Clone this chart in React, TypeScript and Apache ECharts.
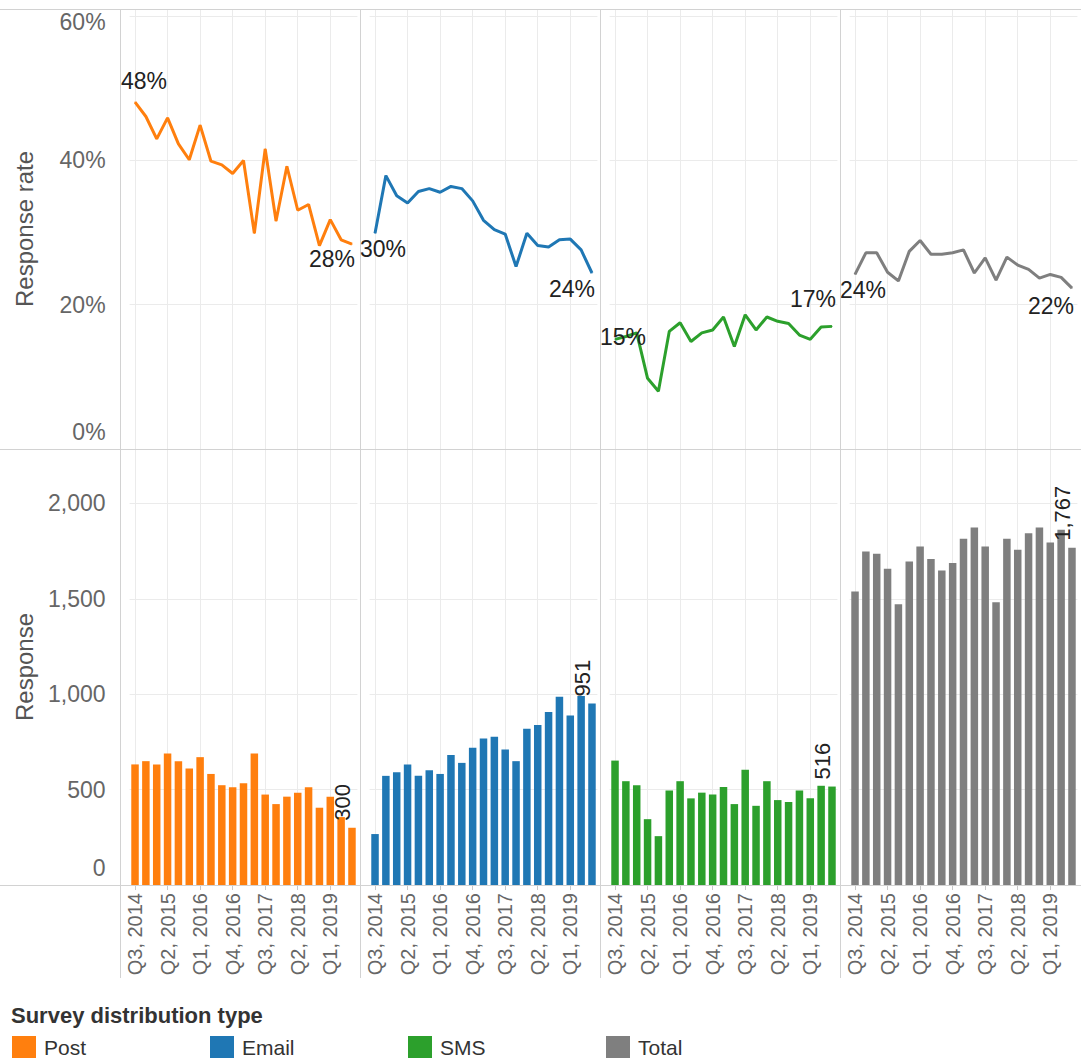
import React, { useEffect, useRef } from 'react';
import * as echarts from 'echarts';

const categories = ['Q3, 2014','Q4, 2014','Q1, 2015','Q2, 2015','Q3, 2015','Q4, 2015','Q1, 2016','Q2, 2016','Q3, 2016','Q4, 2016','Q1, 2017','Q2, 2017','Q3, 2017','Q4, 2017','Q1, 2018','Q2, 2018','Q3, 2018','Q4, 2018','Q1, 2019','Q2, 2019','Q3, 2019'];

const seriesNames = ['Post', 'Email', 'SMS', 'Total'];
const colors = ['#ff7f0e', '#1f77b4', '#2ca02c', '#7f7f7f'];

const postRate = [48.1,46.1,43.0,45.9,42.3,40.1,44.9,39.9,39.4,38.2,40.0,29.9,41.6,31.6,39.2,33.1,33.9,28.2,31.8,29.0,28.4];
const emailRate = [29.9,37.9,35.1,34.1,35.7,36.1,35.6,36.4,36.1,34.4,31.7,30.4,29.8,25.3,29.9,28.2,28.0,29.0,29.1,27.6,24.4];
const smsRate = [15.2,15.6,16.1,9.8,8.0,16.3,17.5,14.9,16.1,16.5,18.3,14.2,18.6,16.5,18.3,17.7,17.4,15.8,15.2,16.9,17.0];
const totalRate = [24.2,27.2,27.2,24.5,23.3,27.4,28.9,27.0,27.0,27.2,27.6,24.4,26.5,23.4,26.6,25.5,24.9,23.7,24.2,23.8,22.3];

const postResp = [632,649,632,689,649,610,670,582,523,512,533,689,474,424,463,484,512,405,463,356,300];
const emailResp = [267,572,591,631,572,602,582,681,640,719,768,777,710,649,819,838,907,986,888,990,951];
const smsResp = [652,544,523,345,256,495,544,454,484,474,514,424,604,415,544,445,435,495,454,520,516];
const totalResp = [1538,1748,1736,1657,1472,1696,1774,1708,1648,1687,1814,1874,1774,1482,1814,1757,1844,1874,1795,1862,1767];

const rateTicks = [0, 20, 40, 60];
const respTicks = [0, 500, 1000, 1500, 2000];

const rates = [postRate, emailRate, smsRate, totalRate];
const resps = [postResp, emailResp, smsResp, totalResp];

// label offsets for first / last points of each rate line
const lineLabelOffsets = [
  [[9, -21], [-20, 15]],
  [[8, 16], [-20, 16]],
  [[8, -2], [-19, -27]],
  [[8, 16], [-21, 18]],
];

const FONT = "'Liberation Sans', Arial, sans-serif";
const AXIS_COLOR = '#666';
const GRID_COLOR = '#ebebeb';
const SEP_COLOR = '#d2d2d2';

function buildOption() {
  const grids: any[] = [];
  const xAxes: any[] = [];
  const yAxes: any[] = [];
  const series: any[] = [];

  for (let r = 0; r < 2; r++) {
    for (let c = 0; c < 4; c++) {
      grids.push({
        left: 129.6 + 240 * c,
        width: 227.8,
        top: r === 0 ? 9 : 449,
        height: r === 0 ? 440 : 436,
      });
      xAxes.push({
        type: 'category',
        gridIndex: r * 4 + c,
        data: categories,
        boundaryGap: true,
        axisLine: { show: r === 1, lineStyle: { color: '#c8c8c8' } },
        axisTick: { show: r === 1, interval: 2, alignWithLabel: true, length: 5, lineStyle: { color: '#c8c8c8' } },
        axisLabel: {
          show: r === 1,
          interval: 2,
          rotate: 90,
          fontSize: 20,
          color: AXIS_COLOR,
          fontFamily: FONT,
          margin: 8,
        },
        splitLine: { show: true, interval: 2, alignWithLabel: true, lineStyle: { color: GRID_COLOR, width: 1 } },
      });
      if (r === 0) {
        yAxes.push({
          type: 'value',
          gridIndex: c,
          min: 0,
          max: 61,
          interval: 20,
          name: c === 0 ? 'Response rate' : '',
          nameLocation: 'middle',
          nameGap: 93,
          nameTextStyle: { fontSize: 24, color: '#555', fontFamily: FONT },
          axisLine: { show: false },
          axisTick: { show: false },
          axisLabel: {
            show: c === 0,
            margin: 24,
            fontSize: 23,
            color: AXIS_COLOR,
            fontFamily: FONT,
            formatter: (v: number) => {
              if (!rateTicks.includes(v)) return '';
              if (v === rateTicks[0]) return '{lo|' + v + '%}';
              if (v === rateTicks[rateTicks.length - 1]) return '{hi|' + v + '%}';
              return v + '%';
            },
            rich: {
              lo: { fontSize: 23, color: AXIS_COLOR, fontFamily: FONT, padding: [0, 0, 34, 0] },
              hi: { fontSize: 23, color: AXIS_COLOR, fontFamily: FONT, padding: [12, 0, 0, 0] },
            },
          },
          splitLine: { show: true, lineStyle: { color: GRID_COLOR } },
        });
      } else {
        yAxes.push({
          type: 'value',
          gridIndex: 4 + c,
          min: 0,
          max: 2285,
          interval: 500,
          name: c === 0 ? 'Response' : '',
          nameLocation: 'middle',
          nameGap: 93,
          nameTextStyle: { fontSize: 24, color: '#555', fontFamily: FONT },
          axisLine: { show: false },
          axisTick: { show: false },
          axisLabel: {
            show: c === 0,
            margin: 24,
            fontSize: 23,
            color: AXIS_COLOR,
            fontFamily: FONT,
            formatter: (v: number) => {
              if (!respTicks.includes(v)) return '';
              const s = v.toLocaleString('en-US');
              if (v === 0) return '{lo|' + s + '}';
              return s;
            },
            rich: {
              lo: { fontSize: 23, color: AXIS_COLOR, fontFamily: FONT, padding: [0, 0, 34, 0] },
            },
          },
          splitLine: { show: true, lineStyle: { color: GRID_COLOR } },
        });
      }
    }
  }

  for (let c = 0; c < 4; c++) {
    const vals = rates[c];
    const last = vals.length - 1;
    series.push({
      type: 'line',
      name: seriesNames[c],
      xAxisIndex: c,
      yAxisIndex: c,
      symbol: 'circle',
      symbolSize: 1,
      showSymbol: true,
      lineStyle: { width: 3, color: colors[c] },
      itemStyle: { color: colors[c] },
      z: 3,
      label: { show: false },
      data: vals.map((v, i) => {
        if (i === 0 || i === last) {
          const off = lineLabelOffsets[c][i === 0 ? 0 : 1];
          return {
            value: v,
            label: {
              show: true,
              position: 'inside',
              offset: off,
              fontSize: 23,
              color: '#222',
              fontFamily: FONT,
              formatter: (p: any) => Math.round(p.value) + '%',
            },
          };
        }
        return v;
      }),
    });
  }

  for (let c = 0; c < 4; c++) {
    const vals = resps[c];
    const last = vals.length - 1;
    series.push({
      type: 'bar',
      name: seriesNames[c],
      xAxisIndex: 4 + c,
      yAxisIndex: 4 + c,
      barWidth: 7.5,
      itemStyle: { color: colors[c] },
      z: 3,
      data: vals.map((v, i) => {
        if (i === last) {
          return {
            value: v,
            label: {
              show: true,
              position: 'top',
              rotate: 90,
              align: 'left',
              verticalAlign: 'middle',
              distance: 7,
              // offset is in the rotated frame: [along text, across text]
              offset: [0, -9],
              fontSize: 22,
              color: '#222',
              fontFamily: FONT,
              formatter: (p: any) => Number(p.value).toLocaleString('en-US'),
            },
          };
        }
        return v;
      }),
    });
  }

  const graphic: any[] = [];
  [9.5, 449.5, 885.5].forEach((y) => {
    graphic.push({ type: 'line', silent: true, z: 1, shape: { x1: 0, y1: y, x2: 1081, y2: y }, style: { stroke: SEP_COLOR, lineWidth: 1 } });
  });
  [120.5, 360.5, 600.5, 840.5].forEach((x) => {
    graphic.push({ type: 'line', silent: true, z: 1, shape: { x1: x, y1: 9, x2: x, y2: 978 }, style: { stroke: SEP_COLOR, lineWidth: 1 } });
  });

  const legends = seriesNames.map((n, i) => ({
    data: [n],
    left: 12 + 198 * i,
    top: 1036,
    padding: 0,
    icon: 'rect',
    itemWidth: 24,
    itemHeight: 22,
    selectedMode: false,
    textStyle: { fontSize: 21, color: '#333', fontFamily: FONT, padding: [0, 0, 0, 3] },
  }));

  return {
    animation: false,
    backgroundColor: '#ffffff',
    textStyle: { fontFamily: FONT },
    title: {
      text: 'Survey distribution type',
      left: 11,
      top: 1004,
      padding: 0,
      textStyle: { fontSize: 22, fontWeight: 'bold', color: '#333', fontFamily: FONT },
    },
    legend: legends,
    grid: grids,
    xAxis: xAxes,
    yAxis: yAxes,
    series,
    graphic,
  };
}

export default function App() {
  const ref = useRef<HTMLDivElement>(null);
  useEffect(() => {
    if (!ref.current) return;
    const chart = echarts.init(ref.current, null, { renderer: 'svg' });
    chart.setOption(buildOption() as any);
    return () => chart.dispose();
  }, []);
  return (
    <div
      ref={ref}
      style={{ position: 'fixed', left: 0, top: 0, width: 1081, height: 1059, background: '#fff' }}
    />
  );
}
